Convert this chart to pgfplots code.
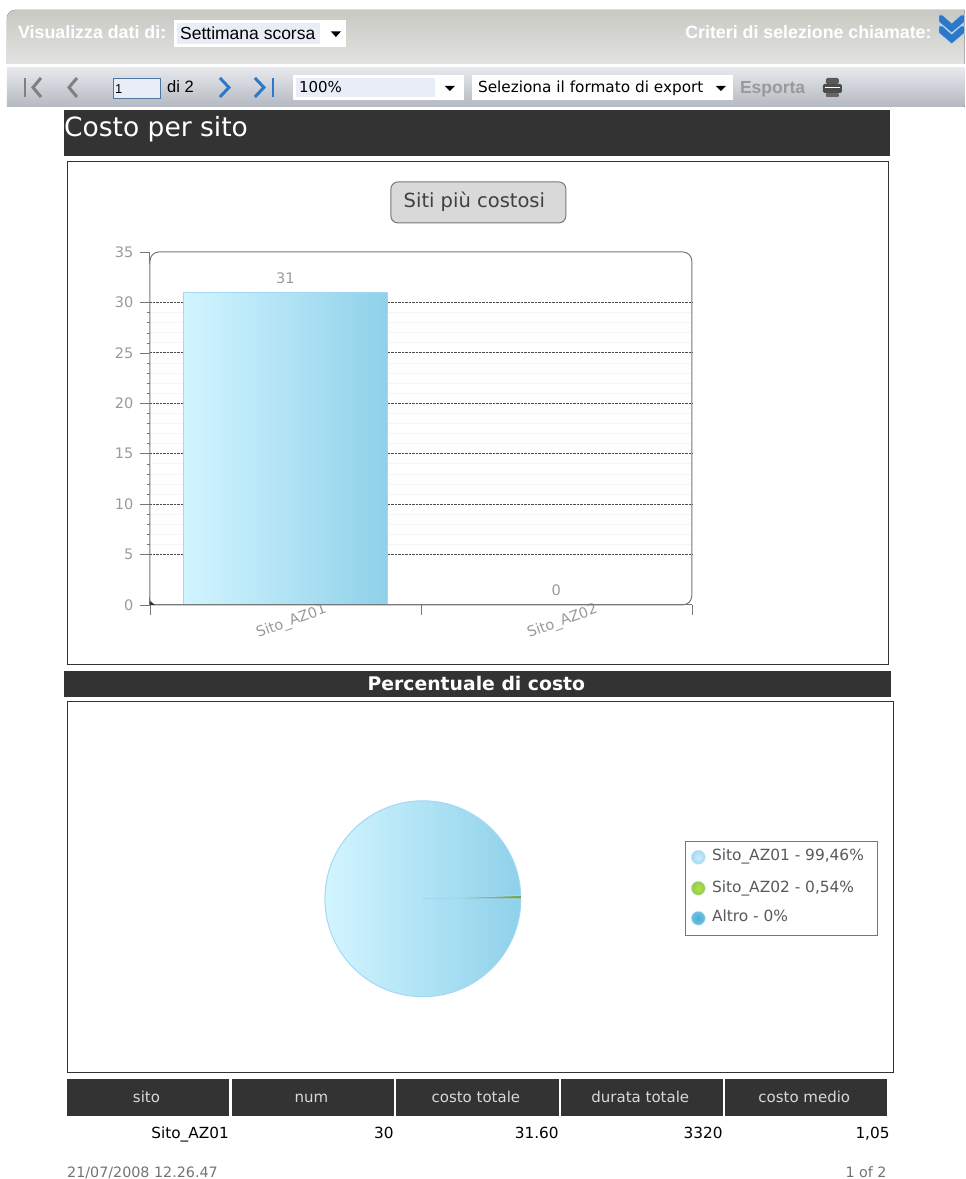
\documentclass[border=0pt]{standalone}
\usepackage{fontspec}
\usepackage{pgfplots}
\pgfplotsset{compat=1.18}
\setmainfont{DejaVu Sans}
\newfontfamily\uifont{Liberation Sans}
\newcommand{\fs}[1]{\fontsize{#1}{#1}\selectfont}
\definecolor{barDark}{HTML}{333333}
\definecolor{tickGray}{HTML}{9A9A9A}
\definecolor{frameGray}{HTML}{777777}
\definecolor{skyLight}{HTML}{D2F5FF}
\definecolor{skyDark}{HTML}{8FD1EA}
\definecolor{skyEdge}{HTML}{A3D8F5}
\definecolor{navBlue}{HTML}{2E78C8}
\definecolor{fieldBlue}{HTML}{E8EDF7}
\definecolor{limeMid}{HTML}{B5E040}
\definecolor{limeOut}{HTML}{90CC50}
\definecolor{altroMid}{HTML}{4FAAD0}
\definecolor{altroOut}{HTML}{70C2E6}
\definecolor{barTopA}{HTML}{C9C9C3}
\definecolor{barBotA}{HTML}{E2E2E0}
\definecolor{barTopB}{HTML}{E6E8EC}
\definecolor{barBotB}{HTML}{B4B8C0}
\pgfplotsset{pageaxis/.style={scale only axis, clip=false}}
% Pie slices, in per cent
\newcommand{\sliceA}{99.46}
\newcommand{\sliceB}{0.54}
\begin{document}
\begin{tikzpicture}[x=1pt,y=1pt,line cap=butt]
\path (0,0) rectangle (965,-1179);

% Selection toolbar
\fill[top color=barTopA,bottom color=barBotA] (7,-64) [rounded corners=8pt] -- (7,-10) [sharp corners] -- (965,-10) -- (965,-64) -- cycle;
\node[anchor=base west,inner sep=0pt,text=white,font=\uifont\bfseries\fs{17.8}] at (18,-39) {Visualizza dati di:};
\fill[white] (174,-20) rectangle (346,-47);
\fill[fieldBlue] (177,-23) rectangle (320,-44);
\node[anchor=base west,inner sep=0pt,font=\uifont\fs{17.5}] at (180,-39.5) {Settimana scorsa};
\fill (331,-31.5) -- (341,-31.5) -- (336,-37) -- cycle;
\node[anchor=base east,inner sep=0pt,text=white,font=\uifont\bfseries\fs{17.8}] at (932,-39) {Criteri di selezione chiamate:};
\foreach \d in {11,0} {
  \fill[navBlue,draw=white!70!navBlue,line width=0.7pt] (939,-15-\d) -- (943,-15-\d) -- (952,-23-\d) -- (961,-15-\d) -- (965,-15-\d) -- (965,-22-\d) -- (952,-33-\d) -- (939,-22-\d) -- cycle;
}

% Paging toolbar
\fill[top color=barTopB,bottom color=barBotB] (7,-68) rectangle (965,-107);
\draw[gray,line width=2.2pt] (25,-78) -- (25,-97);
\draw[gray,line width=3pt] (41,-78) -- (33,-87.5) -- (41,-97);
\draw[gray,line width=3pt] (77,-78) -- (69,-87.5) -- (77,-97);
\draw[navBlue!70!black!80,line width=0.8pt,fill=fieldBlue] (113,-78) rectangle (160,-98);
\node[anchor=base west,inner sep=0pt,font=\uifont\fs{13}] at (115,-93.5) {1};
\node[anchor=base west,inner sep=0pt,font=\uifont\fs{16.5}] at (167,-93) {di 2};
\draw[navBlue,line width=3pt] (220,-78) -- (229,-87.5) -- (220,-97);
\draw[navBlue,line width=3pt] (255,-78) -- (264,-87.5) -- (255,-97);
\draw[navBlue,line width=2.2pt] (273,-78) -- (273,-97);
\fill[white] (293,-75) rectangle (464,-100);
\fill[fieldBlue] (296,-78) rectangle (435,-97);
\node[anchor=base west,inner sep=0pt,font=\fs{15}] at (299,-93) {100\%};
\fill (445,-86) -- (455,-86) -- (450,-91) -- cycle;
\fill[white] (472,-75) rectangle (733,-100);
\node[anchor=base west,inner sep=0pt,font=\fs{15.3}] at (478,-93) {Seleziona il formato di export};
\fill (716,-86) -- (726,-86) -- (721,-91) -- cycle;
\node[anchor=base west,inner sep=0pt,text=black!40,font=\uifont\bfseries\fs{17.5}] at (740,-93.5) {Esporta};
\fill[black!65,rounded corners=1.5pt] (826,-78) rectangle (839,-84);
\fill[black!70,rounded corners=1.5pt] (823,-84) rectangle (842,-93);
\fill[black!60,rounded corners=1pt] (826,-93) rectangle (839,-97);
\draw[white] (825,-87) -- (840,-87);

% Report panels
\fill[barDark] (64,-110) rectangle (890,-156);
\node[anchor=base west,inner sep=0pt,text=white,font=\fs{26.5}] at (64,-137) {Costo per sito};
\draw[black!80,line width=1pt] (67.5,-161.5) rectangle (888.5,-665);
\draw[frameGray,line width=1pt,fill=black!15,rounded corners=7pt] (391,-182) rectangle (566,-223);
\node[anchor=base,inner sep=0pt,font=\fs{19.5},text=black!75] at (474.5,-208) {Siti più costosi};

\begin{axis}[pageaxis,
    at={(150pt,-605pt)},anchor=south west,
    width=542pt,height=353pt,
    xmin=-0.5,xmax=1.5,ymin=0,ymax=35,
    axis line style={draw=none},
    tick pos=left,
    ytick={5,10,...,30},
    extra y ticks={0,35},
    extra y tick labels={0,35},
    extra y tick style={grid=none},
    minor y tick num=4,
    y tick style={draw=frameGray},
    minor y tick style={draw=frameGray},
    major tick length=10pt,
    minor tick length=3pt,
    tick align=outside,
    ymajorgrids,yminorgrids,
    major grid style={draw=black!70,densely dotted,line width=0.6pt},
    minor grid style={draw=black!4,line width=0.5pt},
    xtick={-0.5,0.5,1.5},
    xticklabels={},
    x tick style={draw=frameGray},
    extra x ticks={0,1},
    extra x tick labels={Sito\_AZ01,Sito\_AZ02},
    extra x tick style={
      major tick length=0pt,
      tick label style={rotate=20,anchor=center,yshift=-18pt,text=tickGray,font=\fs{14.5}}
    },
    yticklabel style={text=tickGray,font=\fs{14.5},xshift=-3pt},
    /pgf/number format/assume math mode=true,
  ]
  \addplot[ybar,bar shift=0pt,bar width=204pt,draw=skyEdge,line width=1pt,left color=skyLight,right color=skyDark,
           nodes near coords,
           every node near coord/.append style={text=tickGray,font=\fs{14.5},yshift=5pt}]
    coordinates {(0,31)};
  \addplot[ybar,bar shift=0pt,bar width=204pt,draw=none,
           nodes near coords,
           every node near coord/.append style={text=tickGray,font=\fs{14.5},yshift=6pt}]
    coordinates {(1,0)};
\end{axis}
% Plot frame with its rounded corners
\draw[frameGray,line width=1pt,rounded corners=9pt] (150,-605) -- (150,-252) -- (692,-252) -- (692,-605) -- (150,-605);
\draw[frameGray,line width=1pt] (150,-252) -- (150,-264);
\draw[frameGray,line width=1pt] (150,-597) -- (150,-605) -- (692,-605);
\fill[black!80] (150,-601) -- (155,-605) -- (150,-605) -- cycle;

\fill[barDark] (64,-671) rectangle (891,-697);
\node[anchor=base,inner sep=0pt,text=white,font=\bfseries\fs{18.8}] at (476.5,-691) {Percentuale di costo};
\draw[black!80,line width=1pt] (67.5,-702) rectangle (893.5,-1073);

\begin{axis}[pageaxis,hide axis,
    at={(423pt,-899pt)},anchor=center,
    width=196pt,height=196pt,
    xmin=-1,xmax=1,ymin=-1,ymax=1,
  ]
  % Pie drawn from the slice percentages, starting at three o'clock
  \pgfmathsetmacro{\angB}{\sliceB*3.6}
  \pgfmathsetmacro{\angA}{\sliceA*3.6}
  \fill[left color=skyEdge,right color=limeOut!80!black]
    (axis cs:0,0) -- (axis cs:1,0) arc[start angle=0,delta angle=\angB,radius=98pt] -- cycle;
  \draw[draw=skyEdge,line width=1pt,left color=skyLight,right color=skyDark]
    (axis cs:0,0) -- (axis cs:1,0) arc[start angle=0,delta angle=-\angA,radius=98pt] -- cycle;
\end{axis}

% Pie legend
\draw[frameGray,line width=1pt,fill=white] (685.5,-841.5) rectangle (877.5,-935.5);
\shade[inner color=skyEdge!50,outer color=skyEdge,draw=skyEdge!60] (698.5,-857.5) circle (7);
\shade[inner color=limeMid,outer color=limeOut,draw=skyEdge!60] (698.5,-888.5) circle (7);
\shade[inner color=altroMid,outer color=altroOut,draw=skyEdge!60] (698.5,-918.5) circle (7);
\node[anchor=base west,inner sep=0pt,text=black!65,font=\fs{15.4}] at (712,-861) {Sito\_AZ01 - 99,46\%};
\node[anchor=base west,inner sep=0pt,text=black!65,font=\fs{15.4}] at (712,-893) {Sito\_AZ02 - 0,54\%};
\node[anchor=base west,inner sep=0pt,text=black!65,font=\fs{15.4}] at (712,-922) {Altro - 0\%};

% Summary table
\foreach \l/\r/\t in {67/229/sito,232/394/num,396/559/costo totale,561/723/durata totale,725/887/costo medio} {
  \fill[barDark] (\l,-1079) rectangle (\r,-1116);
  \node[anchor=base,inner sep=0pt,text=white!85!black,font=\fs{15}] at ({(\l+\r)/2-1.5},-1103) {\t};
}
\foreach \r/\t in {229/Sito\_AZ01,394/30,559/31.60,723/3320,890/{1,05}} {
  \node[anchor=base east,inner sep=0pt,font=\fs{15.3}] at (\r,-1139) {\t};
}
\node[anchor=base west,inner sep=0pt,text=black!55,font=\fs{14.3}] at (67,-1178) {21/07/2008 12.26.47};
\node[anchor=base east,inner sep=0pt,text=black!55,font=\fs{14.3}] at (887,-1178) {1 of 2};
\end{tikzpicture}
\end{document}
